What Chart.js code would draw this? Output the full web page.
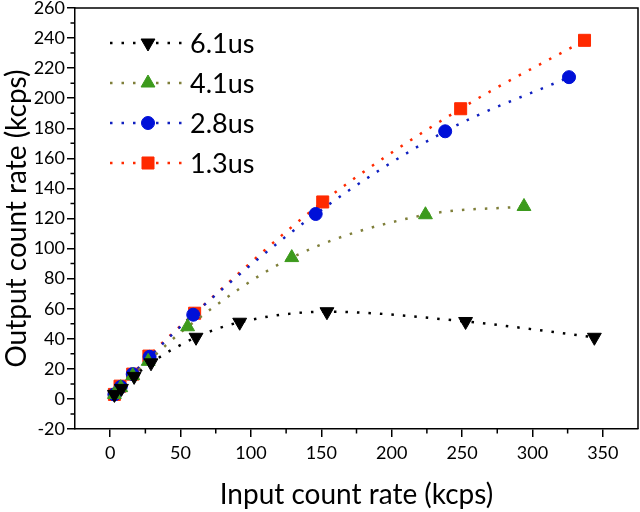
<!DOCTYPE html>
<html><head><meta charset="utf-8">
<script src="https://cdn.jsdelivr.net/npm/chart.js@4.4.1/dist/chart.umd.min.js"></script>
<style>html,body{margin:0;padding:0;background:#fff}</style>
</head><body>
<canvas id="c" width="640" height="512" style="width:640px;height:512px;display:block"></canvas>
<script>
const seriesLabels = ['6.1us', '4.1us', '2.8us', '1.3us'];
const x61 = [3, 8, 17, 29, 61, 92, 154, 252.5, 344];
const y61 = [3, 7, 15, 24, 41, 51, 58, 51.5, 41];
const x41 = [3, 7.5, 16, 27, 55, 129, 224, 294];
const y41 = [3, 7.5, 15.5, 25, 48, 94, 122.5, 128];
const x28 = [3, 7.5, 16, 28, 59, 146, 238, 326];
const y28 = [3, 8, 16.5, 28, 56, 123, 178, 214];
const x13 = [3, 7, 16, 27.5, 60, 151, 249, 337];
const y13 = [3, 8.5, 16.5, 28.5, 57, 131, 193, 238.5];
const xTicks = [0, 50, 100, 150, 200, 250, 300, 350];
const yTicks = [-20, 0, 20, 40, 60, 80, 100, 120, 140, 160, 180, 200, 220, 240, 260];
const xMinor = [25, 75, 125, 175, 225, 275, 325];
const yMinor = [-10, 10, 30, 50, 70, 90, 110, 130, 150, 170, 190, 210, 230, 250];

const FONT = 'Lato, "Open Sans", sans-serif';
const pts = (xs, ys) => xs.map((x, i) => ({x: x, y: ys[i]}));

function ds(label, xs, ys, lineColor, markColor, style, radius, rotation) {
  return {
    label: label, data: pts(xs, ys),
    borderColor: lineColor, backgroundColor: markColor,
    borderWidth: 2.5, borderDash: [2.5, 9], borderCapStyle: 'butt',
    cubicInterpolationMode: 'monotone',
    pointStyle: style, pointRadius: radius, pointRotation: rotation,
    pointBackgroundColor: markColor, pointBorderColor: markColor, pointBorderWidth: 1,
    pointHoverRadius: radius
  };
}

const datasets = [
  ds(seriesLabels[0], x61, y61, '#000000', '#000000', 'triangle', 8, 180),
  ds(seriesLabels[1], x41, y41, '#7f7f3a', '#3c9a1c', 'triangle', 8, 0),
  ds(seriesLabels[2], x28, y28, '#1020c0', '#0010d8', 'circle', 6.5, 0),
  ds(seriesLabels[3], x13, y13, '#ff2a00', '#ff2a00', 'rect', 8.5, 0)
];

const framePlugin = {
  id: 'frame',
  afterDraw(chart) {
    const ctx = chart.ctx, a = chart.chartArea;
    const xs = chart.scales.x, ys = chart.scales.y;
    ctx.save();
    ctx.strokeStyle = '#000'; ctx.lineWidth = 1.5;
    ctx.beginPath();
    ctx.moveTo(a.left, a.top); ctx.lineTo(a.right, a.top); ctx.lineTo(a.right, a.bottom);
    ctx.stroke();
    ctx.beginPath();
    xMinor.forEach(v => { const p = xs.getPixelForValue(v); ctx.moveTo(p, a.bottom); ctx.lineTo(p, a.bottom + 4.5); });
    yMinor.forEach(v => { const p = ys.getPixelForValue(v); ctx.moveTo(a.left, p); ctx.lineTo(a.left - 4.5, p); });
    ctx.stroke();
    // legend
    chart.data.datasets.forEach((d, i) => {
      const y = a.top + 35 + i * 40;
      ctx.save();
      ctx.strokeStyle = d.borderColor; ctx.lineWidth = d.borderWidth;
      ctx.setLineDash(d.borderDash); ctx.lineCap = 'butt';
      ctx.beginPath(); ctx.moveTo(110, y); ctx.lineTo(184, y); ctx.stroke();
      ctx.restore();
      ctx.fillStyle = d.pointBackgroundColor; ctx.strokeStyle = d.pointBorderColor;
      ctx.lineWidth = 1; ctx.setLineDash([]);
      Chart.helpers.drawPoint(ctx, {pointStyle: d.pointStyle, radius: d.pointRadius, rotation: d.pointRotation, borderWidth: 1}, 148, y);
      ctx.fillStyle = '#000'; ctx.font = '27px ' + FONT;
      ctx.textBaseline = 'middle'; ctx.textAlign = 'left';
      ctx.fillText(d.label, 190, y + 1);
    });
    ctx.restore();
  }
};

new Chart(document.getElementById('c'), {
  type: 'line',
  data: {datasets: datasets},
  options: {
    responsive: false, animation: false, devicePixelRatio: 1,
    layout: {autoPadding: false, padding: {top: 8, right: 2, left: 0, bottom: 0}},
    plugins: {legend: {display: false}, tooltip: {enabled: false}},
    scales: {
      x: {
        type: 'linear', min: -25, max: 375,
        afterBuildTicks: s => { s.ticks = xTicks.map(v => ({value: v})); },
        afterFit: s => { s.height = 83; s.paddingLeft = 0; s.paddingRight = 0; },
        grid: {drawOnChartArea: false, drawTicks: true, tickLength: 8, color: '#000', lineWidth: 1.5},
        border: {color: '#000', width: 1.5},
        ticks: {color: '#000', font: {family: FONT, size: 18}, padding: 5, maxRotation: 0, autoSkip: false},
        title: {display: true, text: 'Input count rate (kcps)', color: '#000', font: {family: FONT, size: 28}, padding: 0}
      },
      y: {
        type: 'linear', min: -20, max: 260,
        afterBuildTicks: s => { s.ticks = yTicks.map(v => ({value: v})); },
        afterFit: s => { s.width = 75; s.paddingTop = 0; s.paddingBottom = 0; },
        grid: {drawOnChartArea: false, drawTicks: true, tickLength: 8, color: '#000', lineWidth: 1.5},
        border: {color: '#000', width: 1.5},
        ticks: {color: '#000', font: {family: FONT, size: 18}, padding: 2, autoSkip: false},
        title: {display: true, text: 'Output count rate (kcps)', color: '#000', font: {family: FONT, size: 28}, padding: 0}
      }
    }
  },
  plugins: [framePlugin]
});
</script>
</body></html>
